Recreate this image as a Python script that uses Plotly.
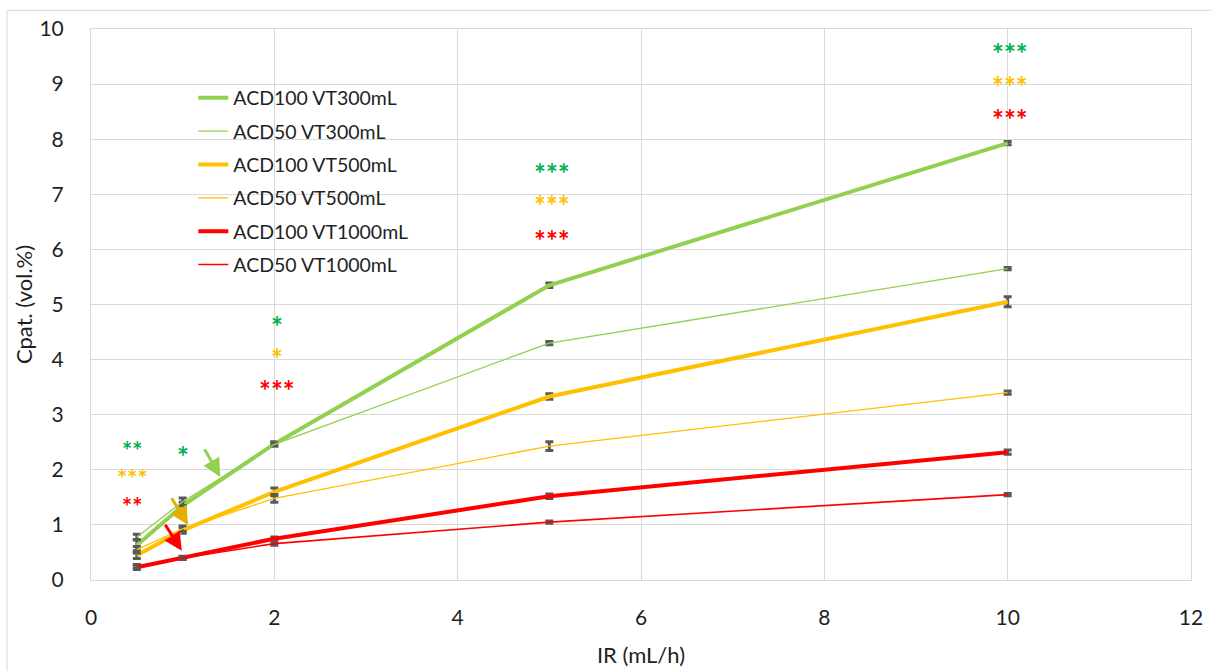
import plotly.graph_objects as go

# ---- data ----
ir = [0.5, 1, 2, 5, 10]
series_names = ["ACD100 VT300mL", "ACD50 VT300mL", "ACD100 VT500mL",
                "ACD50 VT500mL", "ACD100 VT1000mL", "ACD50 VT1000mL"]
acd100_vt300 = [0.63, 1.35, 2.47, 5.35, 7.93]
acd50_vt300 = [0.78, 1.42, 2.46, 4.30, 5.65]
acd100_vt500 = [0.45, 0.90, 1.60, 3.33, 5.05]
acd50_vt500 = [0.55, 0.93, 1.48, 2.43, 3.40]
acd100_vt1000 = [0.23, 0.40, 0.75, 1.52, 2.32]
acd50_vt1000 = [0.25, 0.40, 0.66, 1.05, 1.55]
err100_vt300 = [0.10, 0.06, 0.04, 0.04, 0.03]
err50_vt300 = [0.05, 0.07, 0.03, 0.03, 0.02]
err100_vt500 = [0.06, 0.05, 0.07, 0.05, 0.09]
err50_vt500 = [0.06, 0.05, 0.07, 0.08, 0.03]
err100_vt1000 = [0.04, 0.03, 0.03, 0.04, 0.04]
err50_vt1000 = [0.03, 0.02, 0.03, 0.02, 0.02]

# significance marks: (x, y, text, colour-key)
sig_x = [0.45, 0.45, 0.45, 1.0, 2.03, 2.03, 2.03, 5.03, 5.03, 5.03, 10.03, 10.03, 10.03]
sig_y = [2.45, 1.94, 1.43, 2.36, 4.72, 4.14, 3.56, 7.50, 6.91, 6.28, 9.67, 9.07, 8.48]
sig_txt = ["**", "***", "**", "*", "*", "*", "***", "***", "***", "***", "***", "***", "***"]
sig_col = ["g", "o", "r", "g", "g", "o", "r", "g", "o", "r", "g", "o", "r"]

# arrows: tail (x, y) -> head (x, y)
arrow_tail = [(1.23, 2.40), (0.87, 1.51), (0.80, 1.03)]
arrow_head = [(1.41, 1.87), (1.06, 1.00), (0.99, 0.53)]
arrow_col = ["#92D050", "#E6AE00", "#FF0000"]

GREEN, ORANGE, RED = "#92D050", "#FFC000", "#FF0000"
mark_colors = {"g": "#00B050", "o": "#FFC000", "r": "#FF0000"}

ys = [acd100_vt300, acd50_vt300, acd100_vt500, acd50_vt500, acd100_vt1000, acd50_vt1000]
errs = [err100_vt300, err50_vt300, err100_vt500, err50_vt500, err100_vt1000, err50_vt1000]
colors = [GREEN, GREEN, ORANGE, ORANGE, RED, RED]
widths = [4, 1.3, 4, 1.3, 4, 1.6]

FONT = "Lato"
TXT = "#1f1f1f"
fig = go.Figure()
for i, (name, y, e) in enumerate(zip(series_names, ys, errs)):
    fig.add_trace(go.Scatter(
        x=ir, y=y, name=name, mode="lines",
        line=dict(color=colors[i], width=widths[i]),
        error_y=dict(type="data", array=e, visible=True, color="#595959",
                     thickness=3, width=4),
        legendgroup=f"g{i}",
    ))

for x, y, t, c in zip(sig_x, sig_y, sig_txt, sig_col):
    size = 24 if x < 0.5 else 28
    fig.add_annotation(x=x, y=y, text=f"<b>{t}</b>", showarrow=False,
                       font=dict(family=FONT, size=size, color=mark_colors[c]),
                       yshift=-6 if size == 28 else -5)

for (tx, ty), (hx, hy), c in zip(arrow_tail, arrow_head, arrow_col):
    fig.add_annotation(x=hx, y=hy, ax=tx, ay=ty, xref="x", yref="y",
                       axref="x", ayref="y", text="", showarrow=True,
                       arrowhead=2, arrowsize=1.2, arrowwidth=3, arrowcolor=c)

# outer chart border
fig.add_shape(type="rect", xref="paper", yref="paper",
              x0=-0.0763, x1=1.03, y0=-0.2, y1=1.034,
              line=dict(color="#D9D9D9", width=1), layer="below")

fig.update_layout(
    width=1212, height=671,
    margin=dict(l=91, r=21, t=29, b=91),
    paper_bgcolor="white", plot_bgcolor="white",
    font=dict(family=FONT, size=21, color=TXT),
    showlegend=True,
    legend=dict(x=0.093, y=0.91, xanchor="left", yanchor="top",
                bgcolor="rgba(0,0,0,0)", font=dict(size=19.5, color=TXT),
                traceorder="grouped", tracegroupgap=5),
    xaxis=dict(range=[0, 12], dtick=2, tick0=0, showgrid=True,
               gridcolor="#D9D9D9", gridwidth=1, zeroline=False,
               showline=True, linecolor="#D9D9D9", mirror=True,
               ticks="", ticklabelstandoff=19, automargin=False,
               title=dict(text="IR (mL/h)", font=dict(size=22), standoff=19)),
    yaxis=dict(range=[0, 10], dtick=1, tick0=0, showgrid=True,
               gridcolor="#D9D9D9", gridwidth=1, zeroline=False,
               showline=True, linecolor="#D9D9D9", mirror=True,
               ticks="", ticklabelstandoff=22, automargin=False,
               title=dict(text="Cpat. (vol.%)", font=dict(size=22), standoff=0)),
)

fig.write_html("out.html")
